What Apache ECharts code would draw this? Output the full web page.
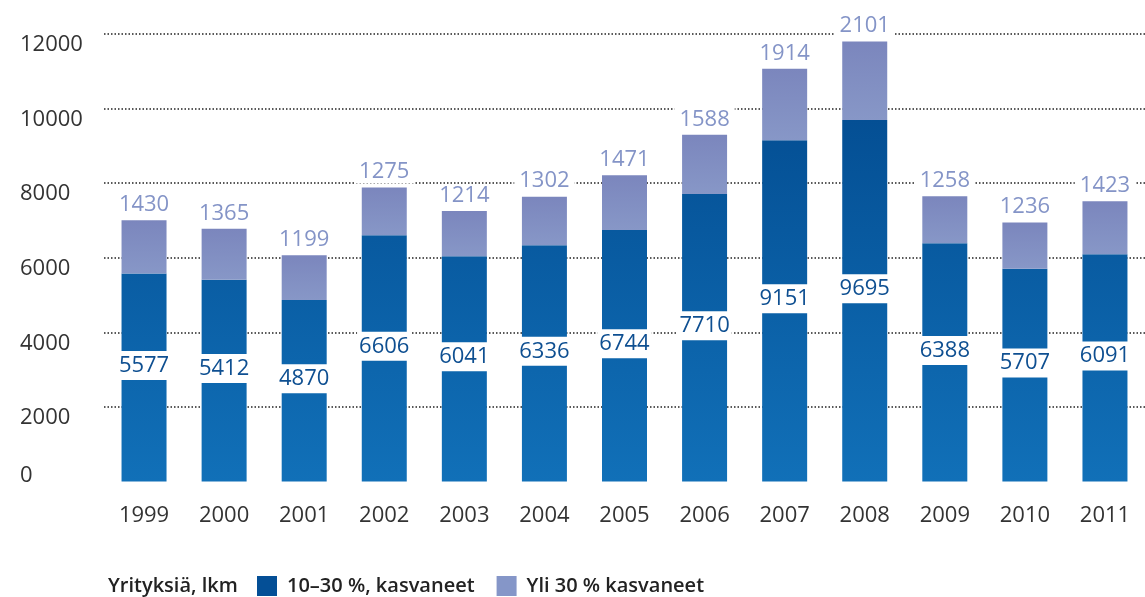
<!DOCTYPE html>
<html>
<head>
<meta charset="utf-8">
<script src="https://cdn.jsdelivr.net/npm/echarts@6/dist/echarts.min.js"></script>
<style>
  html, body { margin: 0; padding: 0; background: #fff; }
  #chart { width: 1145px; height: 597px; }
</style>
</head>
<body>
<div id="chart"></div>
<script>
// vuodet ja yritysmäärät
var years = ['1999','2000','2001','2002','2003','2004','2005','2006','2007','2008','2009','2010','2011'];
var kasv10_30 = [5577,5412,4870,6606,6041,6336,6744,7710,9151,9695,6388,5707,6091];
var kasvYli30 = [1430,1365,1199,1275,1214,1302,1471,1588,1914,2101,1258,1236,1423];
var yTicks = [0, 2000, 4000, 6000, 8000, 10000, 12000];

var FONT = '"Open Sans", sans-serif';

var yLabelBase = {
    margin: 84,
    align: 'left',
    fontFamily: FONT,
    fontSize: 22,
    color: '#333'
};

var chart = echarts.init(document.getElementById('chart'));
chart.setOption({
    animation: false,
    title: {
        text: 'Yrityksiä, lkm',
        left: 108,
        top: 574,
        padding: 0,
        textStyle: { fontFamily: FONT, fontSize: 20, fontWeight: 600, color: '#222', lineHeight: 24 }
    },
    legend: {
        left: 257,
        top: 576,
        padding: 0,
        itemWidth: 20,
        itemHeight: 20,
        itemGap: 22,
        selectedMode: false,
        textStyle: { fontFamily: FONT, fontSize: 20, fontWeight: 600, color: '#222', padding: [0, 0, 0, 5] },
        data: [
            { name: '10–30 %, kasvaneet', icon: 'rect', itemStyle: { color: '#044f96' } },
            { name: 'Yli 30 % kasvaneet', icon: 'rect', itemStyle: { color: '#8596c8' } }
        ]
    },
    grid: { left: 104, right: -12, top: 34, bottom: 115.5 },
    xAxis: {
        type: 'category',
        data: years,
        axisLine: { show: false },
        axisTick: { show: false },
        axisLabel: { margin: 23, fontFamily: FONT, fontSize: 22, color: '#333' }
    },
    yAxis: [
        {
            type: 'value',
            min: yTicks[0],
            max: yTicks[yTicks.length - 1],
            interval: 2000,
            axisLine: { show: false },
            axisTick: { show: false },
            axisLabel: Object.assign({}, yLabelBase, {
                verticalAlign: 'top',
                showMinLabel: false,
                formatter: function (v) { return String(v); }
            }),
            splitLine: {
                showMinLine: false,
                lineStyle: { color: '#222', width: 1.5, type: [1.5, 2] }
            }
        },
        {
            // vain nolla-arvon nimiö, hieman akselin yläpuolella
            type: 'value',
            position: 'left',
            min: yTicks[0],
            max: yTicks[yTicks.length - 1],
            interval: 2000,
            axisLine: { show: false },
            axisTick: { show: false },
            splitLine: { show: false },
            axisLabel: Object.assign({}, yLabelBase, {
                verticalAlign: 'bottom',
                lineHeight: 12,
                formatter: function (v) { return v === yTicks[0] ? String(v) : ''; }
            })
        }
    ],
    series: [
        {
            name: '10–30 %, kasvaneet',
            type: 'bar',
            stack: 'all',
            barWidth: 45,
            data: kasv10_30,
            itemStyle: {
                color: {
                    type: 'linear', x: 0, y: 120, x2: 0, y2: 481, global: true,
                    colorStops: [{ offset: 0, color: '#044f94' }, { offset: 1, color: '#1170b8' }]
                }
            },
            label: {
                show: true,
                position: 'inside',
                offset: [0, -12],
                fontFamily: FONT,
                fontSize: 22,
                lineHeight: 21,
                color: '#0e4f91',
                backgroundColor: '#fff',
                padding: [4, 2]
            }
        },
        {
            name: 'Yli 30 % kasvaneet',
            type: 'bar',
            stack: 'all',
            barWidth: 45,
            data: kasvYli30,
            itemStyle: {
                color: {
                    type: 'linear', x: 0, y: 0, x2: 0, y2: 1,
                    colorStops: [{ offset: 0, color: '#7b86bd' }, { offset: 1, color: '#8797c7' }]
                }
            },
            label: {
                show: true,
                position: 'top',
                distance: 4,
                fontFamily: FONT,
                fontSize: 22,
                lineHeight: 21,
                color: '#8494c7',
                backgroundColor: '#fff',
                padding: [1, 5]
            }
        }
    ]
});
</script>
</body>
</html>
